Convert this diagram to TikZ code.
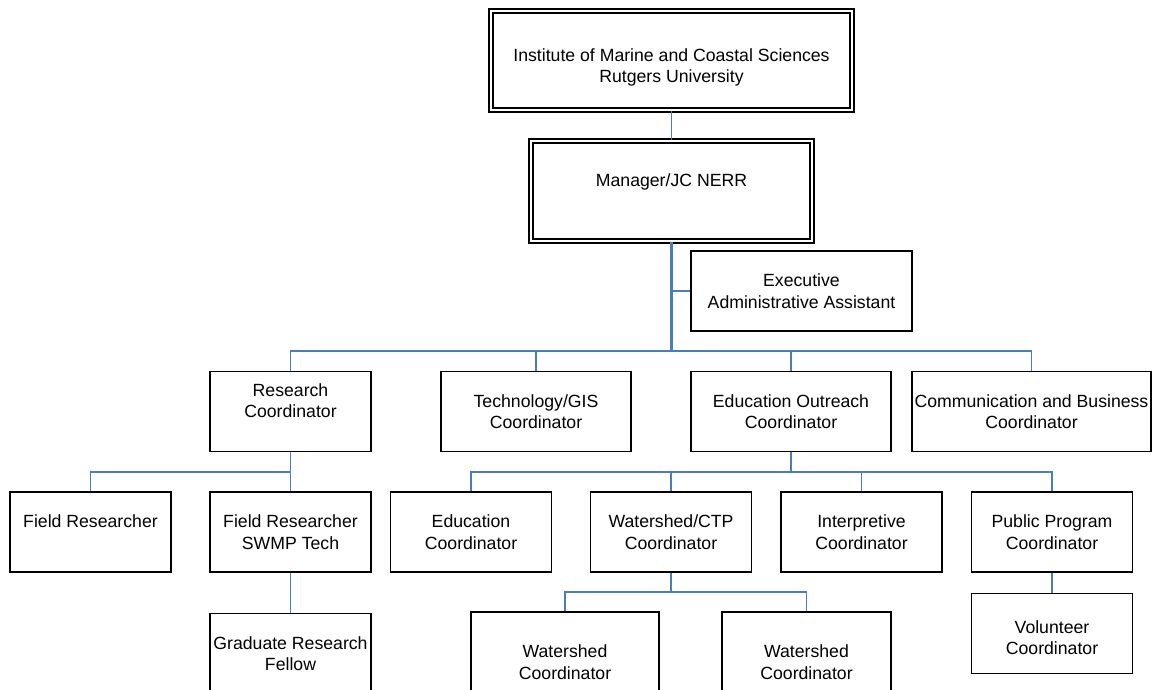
\documentclass[tikz,border=0pt]{standalone}
\usepackage{fontspec}
\setmainfont{Liberation Sans}
\usepackage{xcolor}
\usepackage{tikz}
\usetikzlibrary{positioning}

\definecolor{linkblue}{HTML}{4A7EBB}

\begin{document}
\begin{tikzpicture}[x=0.75pt, y=-0.75pt,
		every node/.style={draw, rectangle, line width=1.1pt, align=center, inner sep=1pt,
			font=\fontsize{13.25}{16.1}\selectfont, minimum width=120.5pt, minimum height=60pt},
		topbox/.style={line width=0.9pt, double, double distance=2.1pt, minimum height=75pt},
		link/.style={draw=linkblue, line width=1.1pt},
		trunk/.style={draw=linkblue, line width=1.9pt}]
		\useasboundingbox (0,0) rectangle (1152,689);
		\clip (0,0) rectangle (1152,689);
		
		% Top
		\node[topbox, minimum width=270.75pt, minimum height=74.25pt] (imcs) at (671.5,60.5) {\mbox{}\\[3.5pt]Institute of Marine and Coastal Sciences\\Rutgers University};
		\node[topbox, minimum width=210.75pt] (mgr) at (671.5,191) {Manager/JC NERR\\~};
		\node[minimum width=165.75pt] (exec) at (801.5,291) {Executive\\Administrative Assistant};
		
		% Coordinators
		\node (research) at (290.5,411.5) {Research\\Coordinator\\~};
		\node[minimum width=142.5pt] (tech) at (536,411.5) {Technology/GIS\\Coordinator};
		\node[minimum width=150pt] (eduout) at (791,411.5) {Education Outreach\\Coordinator};
		\node[minimum width=179.25pt] (comm) at (1031.5,411.5) {Communication and Business\\Coordinator};
		
		% Staff
		\node (fieldr) at (90.5,532) {Field Researcher\\~};
		\node (swmp) at (290.5,532) {Field Researcher\\SWMP Tech};
		\node (educ) at (471,532) {Education\\Coordinator};
		\node (wctp) at (671,532) {Watershed/CTP\\Coordinator};
		\node (interp) at (861.5,532) {Interpretive\\Coordinator};
		\node (public) at (1052,532) {Public Program\\Coordinator};
		
		\node (grad) [below=30pt of swmp] {Graduate Research\\Fellow};
		\node[minimum width=141pt, minimum height=75pt] (ws1) at (565,662) {Watershed\\Coordinator};
		\node[minimum width=126.75pt, minimum height=75pt] (ws2) at (806.5,662) {Watershed\\Coordinator};
		\node (vol) [below=15pt of public] {~\\Volunteer\\Coordinator};
		
		% Bus points
		\coordinate (bus) at (671.5,351);
		\coordinate (rbus) at (290.5,472);
		\coordinate (ebus) at (791,472);
		\coordinate (wbus) at (671,592);
		
		% Edges
		\draw[link] (imcs) -- (mgr);
		\draw[trunk] (mgr.south) -- (bus);
		\draw[link] (exec.west) -- (exec.west -| mgr.south);
		\draw[link] (bus) -| (research.north);
		\draw[link] (bus) -| (tech.north);
		\draw[link] (bus) -| (eduout.north);
		\draw[link] (bus) -| (comm.north);
		
		\draw[link] (research.south) -- (rbus);
		\draw[link] (rbus) -| (fieldr.north);
		\draw[link] (rbus) -- (swmp.north);
		\draw[link] (swmp) -- (grad);
		
		\draw[trunk] (eduout.south) -- (ebus);
		\draw[link] (ebus) -| (educ.north);
		\draw[link] (ebus) -| (wctp.north);
		\draw[link] (ebus) -| (interp.north);
		\draw[link] (ebus) -| (public.north);
		
		\draw[link] (wctp.south) -- (wbus);
		\draw[link] (wbus) -| (ws1.north);
		\draw[link] (wbus) -| (ws2.north);
		\draw[link] (public) -- (vol);
	\end{tikzpicture}
\end{document}
